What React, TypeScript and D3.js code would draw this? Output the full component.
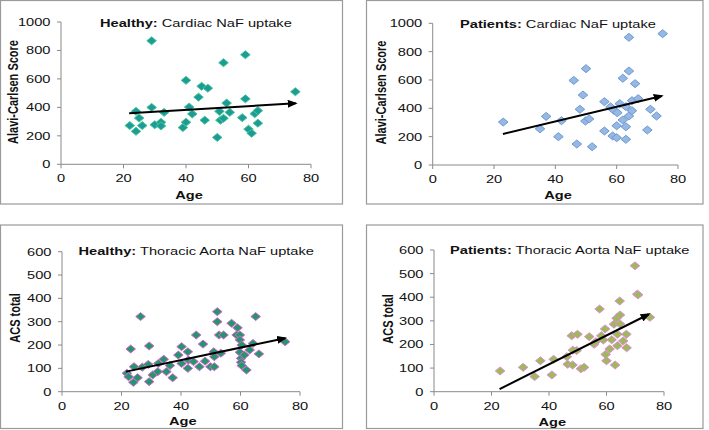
import React from 'react';
import * as d3 from 'd3';

// ---------- data ----------
const xTickValues = [0, 20, 40, 60, 80];
const cardiacTicks = [0, 200, 400, 600, 800, 1000];
const aortaTicks = [0, 100, 200, 300, 400, 500, 600];

const healthyCardiacAge = [22, 24, 24, 25, 26, 29, 29, 30, 32, 32, 33, 39, 40, 40, 41, 42, 44, 45, 46, 47, 50, 50.7, 51, 52, 52, 53, 54, 58, 59, 59, 60, 61, 62, 63, 63, 75];
const healthyCardiacScore = [272, 232, 372, 325, 272, 868, 400, 278, 295, 270, 365, 258, 590, 296, 402, 354, 472, 548, 310, 535, 189, 372, 310, 714, 323, 430, 365, 328, 770, 460, 247, 218, 356, 377, 289, 510];

const patientsCardiacAge = [23, 35, 37, 41, 42, 46, 47, 48, 49, 50, 49.8, 51, 52, 56, 56, 58, 58.7, 59, 60, 60, 60.2, 61, 62, 62, 63, 63, 63, 64, 64, 64, 65, 65, 66, 67, 70, 71, 73, 75];
const patientsCardiacScore = [303, 255, 343, 200, 313, 597, 148, 393, 494, 680, 310, 325, 129, 447, 240, 410, 205, 388, 193, 277, 369, 433, 612, 318, 412, 270, 181, 901, 663, 346, 454, 383, 574, 468, 247, 393, 346, 927];

const healthyAortaAge = [21.8, 22.4, 23.1, 24, 24.2, 25.4, 26.4, 27, 29, 29.3, 29.3, 30.5, 32.2, 32.4, 34.2, 35.1, 36.3, 37.2, 39.1, 40.2, 40.2, 42.3, 42.5, 42.3, 44.2, 45.1, 46.2, 47.4, 48.1, 49.9, 51.2, 51, 51.2, 52.2, 52.2, 52.8, 54.3, 53.4, 57, 59, 58.7, 59.8, 59.8, 60.4, 59.8, 60.2, 60.2, 60.4, 62, 61.3, 63.1, 64.2, 65.1, 66.2, 75];
const healthyAortaScore = [79, 64, 183, 40, 107, 60, 322, 105, 117, 196, 43, 72, 86, 121, 139, 86, 112, 60, 157, 193, 121, 171, 136, 100, 129, 243, 107, 204, 131, 107, 107, 171, 150, 343, 300, 243, 243, 165, 293, 274, 243, 243, 222, 200, 169, 143, 126, 112, 93, 157, 179, 207, 322, 162, 214];

const patientsAortaAge = [23, 31, 35, 37, 41, 41.6, 46.2, 46.5, 47.9, 48.2, 49.9, 49.6, 48.3, 51.1, 52.2, 54, 55.7, 56.3, 57.6, 58.2, 58.9, 59.5, 59.7, 60, 61.1, 61.8, 62.6, 63, 63.5, 63.8, 63.8, 64.6, 64.7, 64.7, 65.8, 66.9, 67, 69.9, 70.7, 71, 75.1];
const patientsAortaScore = [88, 103, 64, 131, 71, 137, 148, 116, 237, 113, 243, 174, 176, 97, 103, 233, 201, 212, 350, 237, 219, 266, 158, 131, 181, 220, 286, 113, 311, 243, 195, 384, 325, 287, 215, 243, 186, 533, 413, 410, 315];

const healthyCardiacTrend = [[21.8, 358], [75.1, 429]];
const patientsCardiacTrend = [[22.9, 219], [74.7, 487]];
const healthyAortaTrend = [[21.5, 86], [75, 229]];
const patientsAortaTrend = [[22.8, 11], [74.7, 328]];

// ---------- styling / layout ----------
const SX = 1.33;
const FONT = "'Liberation Sans', Arial, Helvetica, sans-serif";
const FS = 11;

type PanelCfg = {
  id: string;
  frame: [number, number, number, number];
  xPx: [number, number];
  yPx: [number, number]; // [px at 0, px at max]
  yMax: number;
  yTicks: number[];
  ages: number[];
  values: number[];
  trend: number[][];
  group: string;
  title: string;
  titleX: number;
  titleY: number;
  yLabel: string;
  yLabelX: number;
  yLabelY: number;
  ageX: number;
  ageY: number;
  fill: string;
  stroke: string;
};

const panels: PanelCfg[] = [
  {
    id: 'p1', frame: [0.5, 0.5, 342.5, 204], xPx: [61, 311], yPx: [164.3, 22], yMax: 1000, yTicks: cardiacTicks,
    ages: healthyCardiacAge, values: healthyCardiacScore, trend: healthyCardiacTrend,
    group: 'Healthy:', title: ' Cardiac NaF uptake', titleX: 100, titleY: 27.3,
    yLabel: 'Alavi-Carlsen Score', yLabelX: 12.5, yLabelY: 92, ageX: 189, ageY: 198.5,
    fill: '#1f9a9c', stroke: '#45c98a',
  },
  {
    id: 'p2', frame: [366.5, 0.5, 703, 204], xPx: [432.7, 678], yPx: [165, 23.3], yMax: 1000, yTicks: cardiacTicks,
    ages: patientsCardiacAge, values: patientsCardiacScore, trend: patientsCardiacTrend,
    group: 'Patients:', title: ' Cardiac NaF uptake', titleX: 460, titleY: 27.5,
    yLabel: 'Alavi-Carlsen Score', yLabelX: 381, yLabelY: 92.5, ageX: 558, ageY: 199,
    fill: '#95b8e4', stroke: '#6f99d0',
  },
  {
    id: 'p3', frame: [0.5, 225, 342.5, 428.5], xPx: [62, 300], yPx: [391.7, 251.7], yMax: 600, yTicks: aortaTicks,
    ages: healthyAortaAge, values: healthyAortaScore, trend: healthyAortaTrend,
    group: 'Healthy:', title: ' Thoracic Aorta NaF uptake', titleX: 78.5, titleY: 254.5,
    yLabel: 'ACS total', yLabelX: 15, yLabelY: 318, ageX: 182.7, ageY: 425,
    fill: '#25966b', stroke: '#d866d4',
  },
  {
    id: 'p4', frame: [366.5, 225, 703, 428.5], xPx: [434, 664], yPx: [391.7, 250], yMax: 600, yTicks: aortaTicks,
    ages: patientsAortaAge, values: patientsAortaScore, trend: patientsAortaTrend,
    group: 'Patients:', title: ' Thoracic Aorta NaF uptake', titleX: 450, titleY: 253.5,
    yLabel: 'ACS total', yLabelX: 387.5, yLabelY: 319, ageX: 552.3, ageY: 425.7,
    fill: '#9bbb59', stroke: '#e58ad6',
  },
];

const AXIS = '#8a8a8a';

function diamond(cx: number, cy: number) {
  const w = 4.8, h = 4;
  const p = d3.path();
  p.moveTo(cx, cy - h);
  p.lineTo(cx + w, cy);
  p.lineTo(cx, cy + h);
  p.lineTo(cx - w, cy);
  p.closePath();
  return p.toString();
}

function Panel({ cfg }: { cfg: PanelCfg }) {
  const x = d3.scaleLinear().domain([0, 80]).range(cfg.xPx);
  const y = d3.scaleLinear().domain([0, cfg.yMax]).range(cfg.yPx);
  const [fx0, fy0, fx1, fy1] = cfg.frame;
  const line = d3.line<number[]>().x(d => x(d[0])).y(d => y(d[1]));
  const axisY = y(0);
  const axisX = x(0);
  return (
    <g>
      <rect x={fx0} y={fy0} width={fx1 - fx0} height={fy1 - fy0} fill="none" stroke="#9a9a9a" strokeWidth={1.2} />
      {/* axes */}
      <line x1={axisX} x2={axisX} y1={y(cfg.yMax)} y2={axisY} stroke={AXIS} strokeWidth={1} />
      <line x1={axisX} x2={x(80)} y1={axisY} y2={axisY} stroke={AXIS} strokeWidth={1} />
      {cfg.yTicks.map(t => (
        <g key={'y' + t}>
          <line x1={axisX - 4} x2={axisX} y1={y(t)} y2={y(t)} stroke={AXIS} />
          <text transform={`translate(${axisX - 10.5},${y(t) + 3.9}) scale(${SX},1)`} textAnchor="end"
            fontFamily={FONT} fontSize={FS} fill="#111">{t}</text>
        </g>
      ))}
      {xTickValues.map(t => (
        <g key={'x' + t}>
          <line x1={x(t)} x2={x(t)} y1={axisY} y2={axisY + 4} stroke={AXIS} />
          <text transform={`translate(${x(t)},${axisY + 18}) scale(${SX},1)`} textAnchor="middle"
            fontFamily={FONT} fontSize={FS} fill="#111">{t}</text>
        </g>
      ))}
      {/* titles */}
      <text transform={`translate(${cfg.titleX},${cfg.titleY}) scale(${SX},1)`} fontFamily={FONT} fontSize={FS} fill="#111">
        <tspan fontWeight="bold">{cfg.group}</tspan>
        <tspan>{cfg.title}</tspan>
      </text>
      <text transform={`translate(${cfg.ageX},${cfg.ageY}) scale(${SX},1)`} textAnchor="middle"
        fontFamily={FONT} fontSize={FS} fontWeight="bold" fill="#111">Age</text>
      <text transform={`translate(${cfg.yLabelX},${cfg.yLabelY}) rotate(-90) scale(1,${SX})`} textAnchor="middle"
        dominantBaseline="central" fontFamily={FONT} fontSize={FS} fontWeight="bold" fill="#111">{cfg.yLabel}</text>
      {/* points */}
      {cfg.ages.map((a, i) => (
        <path key={i} d={diamond(x(a), y(cfg.values[i]))} fill={cfg.fill} stroke={cfg.stroke} strokeWidth={1} />
      ))}
      {/* trend */}
      <path d={line(cfg.trend) || ''} stroke="#000" strokeWidth={2} fill="none" markerEnd="url(#arrowHead)" />
    </g>
  );
}

export default function App() {
  return (
    <svg width={709} height={430} style={{ position: 'absolute', left: 0, top: 0, background: '#fff' }}>
      <defs>
        <marker id="arrowHead" viewBox="0 0 10 8" refX={8} refY={4} markerWidth={5} markerHeight={4}
          orient="auto" markerUnits="strokeWidth">
          <path d="M0,0 L10,4 L0,8 Z" fill="#000" />
        </marker>
      </defs>
      <rect x={0} y={0} width={709} height={430} fill="#fff" />
      {panels.map(p => <Panel key={p.id} cfg={p} />)}
    </svg>
  );
}
